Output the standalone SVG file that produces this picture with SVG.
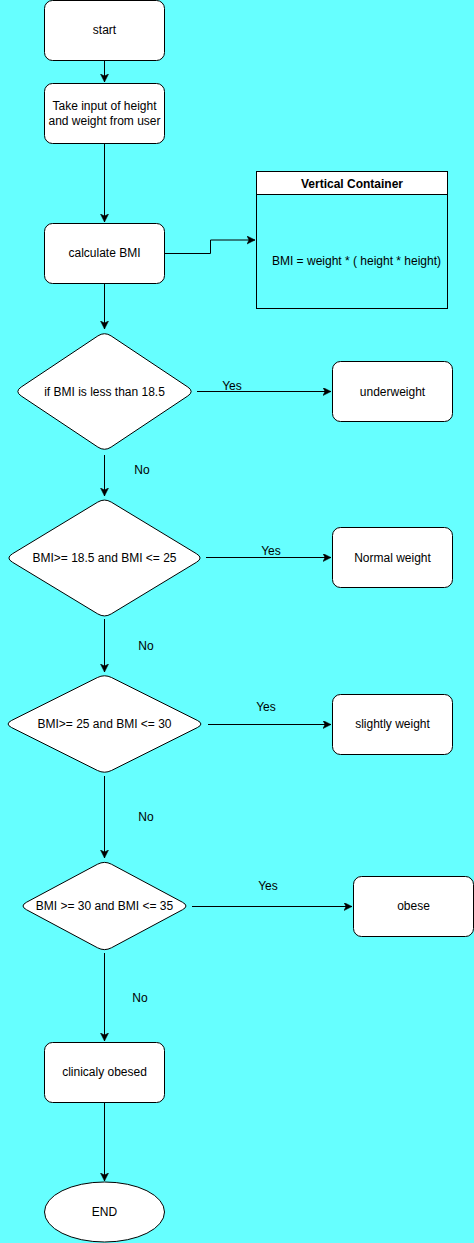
<svg xmlns="http://www.w3.org/2000/svg" width="474" height="1243" viewBox="0 0 474 1243">
<style>
.n{fill:#fff;stroke:#000;stroke-width:1}
.t{font-family:"Liberation Sans",Arial,sans-serif;font-size:12px;fill:#000;text-anchor:middle;dominant-baseline:central}
.e{fill:none;stroke:#000;stroke-width:1}
.b{font-weight:bold}
</style>
<defs>
<marker id="a" markerWidth="10" markerHeight="10" refX="8" refY="4" orient="auto" markerUnits="userSpaceOnUse">
<path d="M0,0 L8,4 L0,8 L2,4 Z" fill="#000" stroke="#000" stroke-width="0.5"/>
</marker>
</defs>
<rect width="474" height="1243" fill="#66FFFF"/>
<g id="connectors">
<path class="e" d="M104.5,60.5 V82" marker-end="url(#a)"/>
<path class="e" d="M104.5,143.5 V222" marker-end="url(#a)"/>
<path class="e" d="M164.5,253.5 H210.5 V240 H255" marker-end="url(#a)"/>
<path class="e" d="M104.5,283.5 V329" marker-end="url(#a)"/>
<path class="e" d="M197,391.5 H331" marker-end="url(#a)"/>
<text class="t" x="232" y="385.5">Yes</text>
<path class="e" d="M104.5,455 V496" marker-end="url(#a)"/>
<text class="t" x="142" y="469.5">No</text>
<path class="e" d="M206,557.5 H331" marker-end="url(#a)"/>
<text class="t" x="271" y="550.5">Yes</text>
<path class="e" d="M104.5,619 V672" marker-end="url(#a)"/>
<text class="t" x="146" y="645.5">No</text>
<path class="e" d="M208,724.5 H331" marker-end="url(#a)"/>
<text class="t" x="266" y="706.5">Yes</text>
<path class="e" d="M104.5,776 V858" marker-end="url(#a)"/>
<text class="t" x="146" y="816.5">No</text>
<path class="e" d="M192,906.5 H352" marker-end="url(#a)"/>
<text class="t" x="268" y="885.5">Yes</text>
<path class="e" d="M104.5,953 V1041" marker-end="url(#a)"/>
<text class="t" x="140" y="997.5">No</text>
<path class="e" d="M104.5,1102.5 V1181" marker-end="url(#a)"/>
</g>
<g id="start"><rect class="n" x="44.5" y="0.5" width="120" height="60" rx="8"/><text class="t" x="104.5" y="30">start</text></g>
<g id="input"><rect class="n" x="44.5" y="83.5" width="120" height="60" rx="8"/><text class="t" x="104.5" y="106">Take input of height</text><text class="t" x="104.5" y="121">and weight from user</text></g>
<g id="calc"><rect class="n" x="44.5" y="223.5" width="120" height="60" rx="8"/><text class="t" x="104.5" y="253">calculate BMI</text></g>
<g id="container"><rect x="256.5" y="171.5" width="191" height="137" fill="none" stroke="#000"/><rect x="256.5" y="171.5" width="191" height="23" fill="#fff" stroke="#000"/><text class="t b" x="352" y="184">Vertical Container</text><text class="t" x="356.5" y="261">BMI = weight * ( height * height)</text></g>
<g id="d1"><path class="n" d="M111.16,335.94 L187.84,387.06 Q194.5,391.5 187.84,395.94 L111.16,447.06 Q104.5,451.5 97.84,447.06 L21.16,395.94 Q14.5,391.5 21.16,387.06 L97.84,335.94 Q104.5,331.5 111.16,335.94 Z"/><text class="t" x="104.5" y="391.5">if BMI is less than 18.5</text></g>
<g id="under"><rect class="n" x="332.5" y="361.5" width="120" height="60" rx="8"/><text class="t" x="392.5" y="391.5">underweight</text></g>
<g id="d2"><path class="n" d="M111.34,502.15 L196.66,553.85 Q203.5,558 196.66,562.15 L111.34,613.85 Q104.5,618 97.66,613.85 L12.34,562.15 Q5.5,558 12.34,553.85 L97.66,502.15 Q104.5,498 111.34,502.15 Z"/><text class="t" x="104.5" y="557.5">BMI&gt;= 18.5 and BMI &lt;= 25</text></g>
<g id="normal"><rect class="n" x="332.5" y="527.5" width="120" height="60" rx="8"/><text class="t" x="392.5" y="557.5">Normal weight</text></g>
<g id="d3"><path class="n" d="M111.66,677.58 L197.34,720.42 Q204.5,724 197.34,727.58 L111.66,770.42 Q104.5,774 97.34,770.42 L11.66,727.58 Q4.5,724 11.66,720.42 L97.34,677.58 Q104.5,674 111.66,677.58 Z"/><text class="t" x="104.5" y="723.5">BMI&gt;= 25 and BMI &lt;= 30</text></g>
<g id="slight"><rect class="n" x="332.5" y="694.5" width="120" height="60" rx="8"/><text class="t" x="392.5" y="723.5">slightly weight</text></g>
<g id="d4"><path class="n" d="M111.55,864.28 L182.45,902.22 Q189.5,906 182.45,909.78 L111.55,947.72 Q104.5,951.5 97.45,947.72 L26.55,909.78 Q19.5,906 26.55,902.22 L97.45,864.28 Q104.5,860.5 111.55,864.28 Z"/><text class="t" x="104.5" y="906">BMI &gt;= 30 and BMI &lt;= 35</text></g>
<g id="obese"><rect class="n" x="353.5" y="876.5" width="120" height="60" rx="8"/><text class="t" x="413.5" y="906">obese</text></g>
<g id="clin"><rect class="n" x="44.5" y="1042.5" width="120" height="60" rx="8"/><text class="t" x="104.5" y="1071.5">clinicaly obesed</text></g>
<g id="end"><ellipse class="n" cx="104.5" cy="1212" rx="60" ry="30"/><text class="t" x="104.5" y="1211.5">END</text></g>
</svg>
